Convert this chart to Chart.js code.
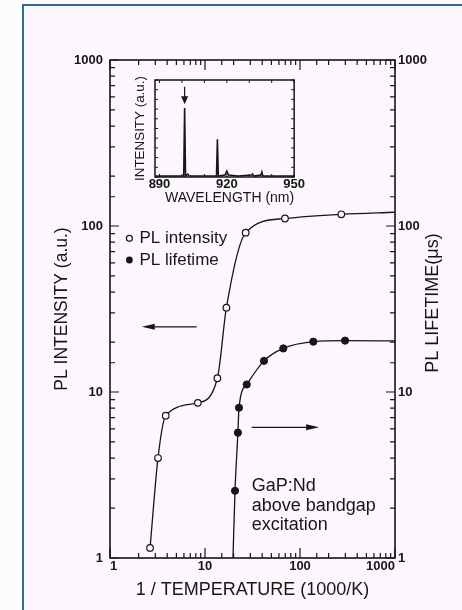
<!DOCTYPE html>
<html>
<head>
<meta charset="utf-8">
<script src="https://cdn.jsdelivr.net/npm/chart.js@4.4.0/dist/chart.umd.min.js"></script>
<style>
  html, body { margin: 0; padding: 0; background: #fdfcfd; }
  body { width: 462px; height: 610px; position: relative; overflow: hidden; }
  #frame {
    position: absolute; left: 22px; top: 4px; right: -4px; bottom: -4px;
    border-left: 2px solid #2b6ea5; border-top: 2px solid #2b6ea5;
    background: #fcf7fc;
  }
  #main { position: absolute; left: 0; top: 0; }
  #inset { position: absolute; left: 125px; top: 70px; }
</style>
</head>
<body>
<div id="frame"></div>
<canvas id="main" width="462" height="610"></canvas>
<canvas id="inset" width="180" height="140"></canvas>
<script>
// ===== DATA =====
// PL intensity (open circles, left axis) vs 1/T
const intensityX = [2.64, 3.2, 3.86, 8.4, 13.5, 16.8, 26.8, 69.5, 272];
const intensityY = [1.15, 4.0, 7.2, 8.6, 12.1, 32.2, 91.2, 111, 117.6];
// fitted curve keeps going to the right edge
const intensityTailX = [1000];
const intensityTailY = [121];

// PL lifetime (filled circles, right axis) vs 1/T
const lifetimeX = [20.7, 22.2, 22.8, 27.5, 41.8, 66.7, 138, 298];
const lifetimeY = [2.54, 5.69, 8.04, 11.1, 15.4, 18.3, 20.1, 20.4];
const lifetimeHeadX = [19.7];
const lifetimeHeadY = [1];
const lifetimeTailX = [1000];
const lifetimeTailY = [20.3];

const decadeLabels = ['1', '10', '100', '1000'];

// inset: emission spectrum
const wavelength = [888, 900.8, 901.2, 901.6, 902.6, 903.2, 913, 915.4, 915.8, 916.2,
                    919.2, 920, 920.8, 925, 931, 931.5, 932, 935.2, 935.6, 936, 950];
const spectrum   = [0.01, 0.01, 0.71, 0.01, 0.03, 0.01, 0.01, 0.01, 0.39, 0.01,
                    0.02, 0.06, 0.02, 0.01, 0.02, 0.03, 0.01, 0.02, 0.05, 0.01, 0.01];
const insetTickValues = [890, 920, 950];
const insetTickLabels = ['890', '920', '950'];
const peakWavelength = 901.2;

const FONT = "'Liberation Sans', Arial, Helvetica, sans-serif";
const INK = '#161616';
const PAPER = '#fcf7fc';

function toPoints(xs, ys) {
    return xs.map((x, i) => ({ x: x, y: ys[i] }));
}

function decadeLabel(value) {
    const k = Math.log10(value);
    if (Math.abs(k - Math.round(k)) < 1e-6) return decadeLabels[Math.round(k)];
    return '';
}

function isDecade(v) {
    const k = Math.log10(v);
    return Math.abs(k - Math.round(k)) < 1e-6;
}

// ===== MAIN CHART PLUGINS =====
const frameTicks = {
    id: 'frameTicks',
    afterDraw(chart) {
        const { ctx, chartArea: a, scales } = chart;
        ctx.save();
        ctx.strokeStyle = INK;
        ctx.lineWidth = 1.6;
        ctx.strokeRect(a.left, a.top, a.right - a.left, a.bottom - a.top);

        ctx.lineWidth = 1.2;
        ctx.beginPath();
        scales.x.ticks.forEach(t => {
            const px = scales.x.getPixelForValue(t.value);
            const len = isDecade(t.value) ? 10 : 5;
            ctx.moveTo(px, a.bottom); ctx.lineTo(px, a.bottom - len);
            ctx.moveTo(px, a.top); ctx.lineTo(px, a.top + len);
        });
        scales.y.ticks.forEach(t => {
            const py = scales.y.getPixelForValue(t.value);
            const len = isDecade(t.value) ? 9 : 5;
            ctx.moveTo(a.left, py); ctx.lineTo(a.left + len, py);
        });
        scales.y2.ticks.forEach(t => {
            const py = scales.y2.getPixelForValue(t.value);
            const len = isDecade(t.value) ? 9 : 5;
            ctx.moveTo(a.right, py); ctx.lineTo(a.right - len, py);
        });
        ctx.stroke();
        ctx.restore();
    }
};

function drawArrow(ctx, x1, y, x2) {
    const dir = x2 > x1 ? 1 : -1;
    ctx.beginPath();
    ctx.moveTo(x1, y);
    ctx.lineTo(x2 - dir * 8, y);
    ctx.stroke();
    ctx.beginPath();
    ctx.moveTo(x2, y);
    ctx.lineTo(x2 - dir * 13, y - 3);
    ctx.lineTo(x2 - dir * 13, y + 3);
    ctx.closePath();
    ctx.fill();
}

const annotations = {
    id: 'annotations',
    afterDatasetsDraw(chart) {
        const { ctx, chartArea: a, scales } = chart;
        const x = scales.x, y = scales.y, y2 = scales.y2;
        ctx.save();
        ctx.fillStyle = INK;
        ctx.strokeStyle = INK;

        // legend
        const lx = x.getPixelForValue(1.6);
        const ly1 = y.getPixelForValue(84.3);
        const ly2 = y.getPixelForValue(62.4);
        ctx.lineWidth = 1.2;
        ctx.fillStyle = PAPER;
        ctx.beginPath(); ctx.arc(lx, ly1, 3, 0, Math.PI * 2); ctx.fill(); ctx.stroke();
        ctx.fillStyle = INK;
        ctx.beginPath(); ctx.arc(lx, ly2, 3.4, 0, Math.PI * 2); ctx.fill();
        ctx.font = '17px ' + FONT;
        ctx.textBaseline = 'middle';
        ctx.textAlign = 'left';
        ctx.fillText('PL intensity', lx + 10, ly1);
        ctx.fillText('PL lifetime', lx + 10, ly2);

        // arrows pointing to each axis
        ctx.lineWidth = 1.2;
        drawArrow(ctx, x.getPixelForValue(8.17), y.getPixelForValue(24.7), x.getPixelForValue(2.16));
        drawArrow(ctx, x.getPixelForValue(31), y2.getPixelForValue(6.13), x.getPixelForValue(159));

        // sample note
        ctx.font = '18px ' + FONT;
        const tx = x.getPixelForValue(31);
        const ty = y.getPixelForValue(2.72);
        ctx.fillText('GaP:Nd', tx, ty);
        ctx.fillText('above bandgap', tx, ty + 20);
        ctx.fillText('excitation', tx, ty + 39);

        // right axis title, reading upward
        ctx.save();
        ctx.translate(a.right + 38, (a.top + a.bottom) / 2 - 6);
        ctx.rotate(-Math.PI / 2);
        ctx.textAlign = 'center';
        ctx.font = '18px ' + FONT;
        ctx.fillText('PL LIFETIME(\u03bcs)', 0, 0);
        ctx.restore();

        ctx.restore();
    }
};

// ===== MAIN CHART =====
const intensityData = toPoints(intensityX, intensityY).concat(toPoints(intensityTailX, intensityTailY));
const lifetimeData = toPoints(lifetimeHeadX, lifetimeHeadY)
    .concat(toPoints(lifetimeX, lifetimeY))
    .concat(toPoints(lifetimeTailX, lifetimeTailY));

const tickFont = { family: FONT, size: 13, weight: 'bold' };

new Chart(document.getElementById('main'), {
    type: 'line',
    data: {
        datasets: [{
            label: 'PL intensity',
            data: intensityData,
            yAxisID: 'y',
            borderColor: INK,
            borderWidth: 1.3,
            cubicInterpolationMode: 'monotone',
            pointRadius: c => c.dataIndex < intensityX.length ? 3.3 : 0,
            pointBackgroundColor: PAPER,
            pointBorderColor: INK,
            pointBorderWidth: 1.2
        }, {
            label: 'PL lifetime',
            data: lifetimeData,
            yAxisID: 'y2',
            borderColor: INK,
            borderWidth: 1.3,
            cubicInterpolationMode: 'monotone',
            pointRadius: c => (c.dataIndex >= lifetimeHeadX.length &&
                               c.dataIndex < lifetimeHeadX.length + lifetimeX.length) ? 3.6 : 0,
            pointBackgroundColor: INK,
            pointBorderColor: INK,
            pointBorderWidth: 1
        }]
    },
    options: {
        responsive: false,
        animation: false,
        layout: { padding: { top: 60, left: 0, right: 0, bottom: 0 } },
        plugins: { legend: { display: false }, tooltip: { enabled: false } },
        scales: {
            x: {
                type: 'logarithmic', min: 1, max: 1000,
                grid: { display: false, drawTicks: false },
                border: { display: false },
                ticks: { autoSkip: false, maxRotation: 0, align: 'inner', padding: 1, color: INK,
                         font: tickFont, callback: decadeLabel },
                title: { display: true, text: '1 / TEMPERATURE (1000/K)', color: INK,
                         font: { family: FONT, size: 18 }, padding: { top: 0, bottom: 9 } },
                afterFit: s => { s.height = 52; }
            },
            y: {
                type: 'logarithmic', position: 'left', min: 1, max: 1000,
                grid: { display: false, drawTicks: false },
                border: { display: false },
                ticks: { autoSkip: false, padding: 7, color: INK, font: tickFont, callback: decadeLabel },
                title: { display: true, text: 'PL INTENSITY (a.u.)', color: INK,
                         font: { family: FONT, size: 17.5 }, padding: { top: 52, bottom: 0 } },
                afterFit: s => { s.width = 110; }
            },
            y2: {
                type: 'logarithmic', position: 'right', min: 1, max: 1000,
                grid: { display: false, drawTicks: false },
                border: { display: false },
                ticks: { autoSkip: false, padding: 3, color: INK, font: tickFont, callback: decadeLabel },
                afterFit: s => { s.width = 67; }
            }
        }
    },
    plugins: [frameTicks, annotations]
});

// ===== INSET SPECTRUM =====
const insetFrame = {
    id: 'insetFrame',
    afterDraw(chart) {
        const { ctx, chartArea: a, scales } = chart;
        ctx.save();
        ctx.strokeStyle = INK;
        ctx.fillStyle = INK;
        ctx.lineWidth = 1.5;
        ctx.strokeRect(a.left, a.top, a.right - a.left, a.bottom - a.top);

        ctx.lineWidth = 1;
        ctx.beginPath();
        scales.y.ticks.forEach(t => {
            const py = scales.y.getPixelForValue(t.value);
            ctx.moveTo(a.left, py); ctx.lineTo(a.left + 3, py);
            ctx.moveTo(a.right, py); ctx.lineTo(a.right - 3, py);
        });
        for (let w = 890; w <= 950; w += 10) {
            const px = scales.x.getPixelForValue(w);
            ctx.moveTo(px, a.bottom); ctx.lineTo(px, a.bottom - 3);
            ctx.moveTo(px, a.top); ctx.lineTo(px, a.top + 3);
        }
        ctx.stroke();

        // marker over the main line
        const px = scales.x.getPixelForValue(peakWavelength);
        const top = scales.y.getPixelForValue(0.93);
        const tip = scales.y.getPixelForValue(0.75);
        ctx.lineWidth = 1.2;
        ctx.beginPath(); ctx.moveTo(px, top); ctx.lineTo(px, tip - 5); ctx.stroke();
        ctx.beginPath();
        ctx.moveTo(px, tip);
        ctx.lineTo(px - 3.5, tip - 8);
        ctx.lineTo(px + 3.5, tip - 8);
        ctx.closePath();
        ctx.fill();
        ctx.restore();
    }
};

new Chart(document.getElementById('inset'), {
    type: 'line',
    data: {
        datasets: [{
            data: toPoints(wavelength, spectrum),
            borderColor: INK,
            borderWidth: 1.6,
            pointRadius: 0,
            tension: 0
        }]
    },
    options: {
        responsive: false,
        animation: false,
        layout: { padding: { top: 10, right: 9, left: 0, bottom: 0 } },
        plugins: { legend: { display: false }, tooltip: { enabled: false } },
        scales: {
            x: {
                type: 'linear', min: 888, max: 950,
                afterBuildTicks: s => { s.ticks = insetTickValues.map(v => ({ value: v })); },
                grid: { display: false, drawTicks: false },
                border: { display: false },
                ticks: { autoSkip: false, maxRotation: 0, padding: 0, color: INK, font: tickFont,
                         callback: (v, i) => insetTickLabels[i] },
                title: { display: true, text: 'WAVELENGTH (nm)', align: 'end', color: INK,
                         font: { family: FONT, size: 14 }, padding: { top: 0, bottom: 3 } },
                afterFit: s => { s.height = 33; }
            },
            y: {
                min: 0, max: 1,
                grid: { display: false, drawTicks: false },
                border: { display: false },
                ticks: { display: false, stepSize: 0.1 },
                title: { display: true, text: 'INTENSITY (a.u.)', color: INK,
                         font: { family: FONT, size: 13.4 }, padding: { top: 7, bottom: 0 } },
                afterFit: s => { s.width = 30; }
            }
        }
    },
    plugins: [insetFrame]
});
</script>
</body>
</html>
